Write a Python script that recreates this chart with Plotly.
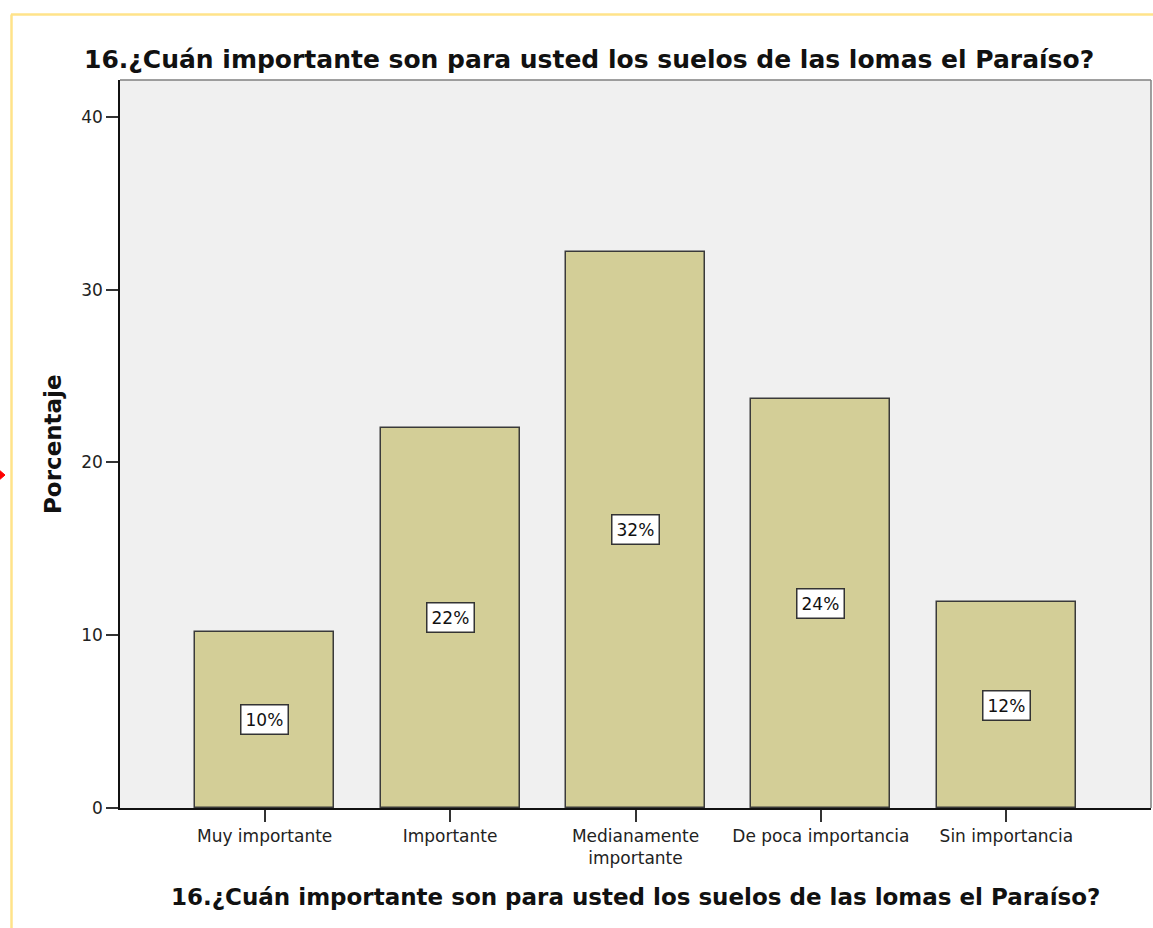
import plotly.graph_objects as go

# ---- data ----
categories = ["Muy importante", "Importante", "Medianamente<br>importante",
              "De poca importancia", "Sin importancia"]
percentages = [10.2, 22.0, 32.2, 23.7, 11.9]
bar_labels = ["10%", "22%", "32%", "24%", "12%"]
y_ticks = [0, 10, 20, 30, 40]
title_text = "16.¿Cuán importante son para usted los suelos de las lomas el Paraíso?"
y_title = "Porcentaje"

W, H = 1153, 928
ML, MR, MT, MB = 120, 2, 80, 120
PW, PH = W - ML - MR, H - MT - MB


def px_x(p):
    return (p - ML) / PW


def px_y(p):
    return (H - MB - p) / PH


FONT = "DejaVu Sans"

fig = go.Figure()
fig.add_trace(go.Bar(
    x=list(range(len(categories))),
    y=percentages,
    width=0.75,
    marker=dict(color="#D3CE97", line=dict(color="#3A3A3A", width=1.5)),
    hoverinfo="skip",
))

annotations = []
for i, (v, lab) in enumerate(zip(percentages, bar_labels)):
    annotations.append(dict(
        x=i, y=v / 2, xref="x", yref="y", text=lab, showarrow=False,
        font=dict(family=FONT, size=17, color="#111111"),
        bgcolor="white", bordercolor="#333333", borderwidth=1.5, borderpad=4,
    ))

# titles
annotations.append(dict(
    x=px_x(82), y=px_y(59), xref="paper", yref="paper", xanchor="left", yanchor="middle",
    text="<b>" + title_text + "</b>", showarrow=False,
    font=dict(family=FONT, size=25, color="#111111"),
))
annotations.append(dict(
    x=0.5, y=px_y(897), xref="paper", yref="paper", xanchor="center", yanchor="middle",
    text="<b>" + title_text + "</b>", showarrow=False,
    font=dict(family=FONT, size=23, color="#111111"),
))
annotations.append(dict(
    x=px_x(53), y=0.5, xref="paper", yref="paper", xanchor="center", yanchor="middle",
    text="<b>" + y_title + "</b>", showarrow=False, textangle=-90,
    font=dict(family=FONT, size=23, color="#111111"),
))

shapes = [
    # top/right frame of plot area (gray)
    dict(type="line", xref="paper", yref="paper", x0=0, x1=1, y0=1, y1=1,
         line=dict(color="#808080", width=1.5)),
    dict(type="line", xref="paper", yref="paper", x0=1, x1=1, y0=0, y1=1,
         line=dict(color="#808080", width=1.5)),
    # yellow selection border
    dict(type="line", xref="paper", yref="paper", x0=px_x(11), x1=px_x(W + 5),
         y0=px_y(14.5), y1=px_y(14.5), line=dict(color="#FFE38A", width=2.5)),
    dict(type="line", xref="paper", yref="paper", x0=px_x(11.5), x1=px_x(11.5),
         y0=px_y(14.5), y1=px_y(H + 5), line=dict(color="#FFE38A", width=2.5)),
    # small red marker at left edge
    dict(type="path", xref="paper", yref="paper",
         path=f"M {px_x(-2)} {px_y(469)} L {px_x(5)} {px_y(475)} L {px_x(-2)} {px_y(481)} Z",
         fillcolor="#FF0000", line=dict(color="#FF0000", width=1)),
]

fig.update_layout(
    width=W, height=H,
    margin=dict(l=ML, r=MR, t=MT, b=MB, pad=0),
    paper_bgcolor="white",
    plot_bgcolor="#F0F0F0",
    showlegend=False,
    bargap=0,
    annotations=annotations,
    shapes=shapes,
    font=dict(family=FONT, size=17, color="#222222"),
)
fig.update_xaxes(
    range=[-0.78, 4.78],
    tickmode="array", tickvals=list(range(len(categories))), ticktext=categories,
    ticks="outside", ticklen=12, tickwidth=1.5, tickcolor="#333333",
    showline=True, linecolor="#111111", linewidth=1.5,
    showgrid=False, zeroline=False,
    tickfont=dict(family=FONT, size=17, color="#222222"),
    fixedrange=True,
)
fig.update_yaxes(
    range=[0, 42.14],
    tickmode="array", tickvals=y_ticks,
    ticks="outside", ticklen=12, tickwidth=1.5, tickcolor="#333333",
    showline=True, linecolor="#111111", linewidth=1.5,
    showgrid=False, zeroline=False,
    tickfont=dict(family=FONT, size=17, color="#222222"),
    fixedrange=True,
)

fig.write_html(
    "out.html",
    config={"displayModeBar": False},
    post_script="document.body.style.margin='0';document.body.style.overflow='hidden';",
)
